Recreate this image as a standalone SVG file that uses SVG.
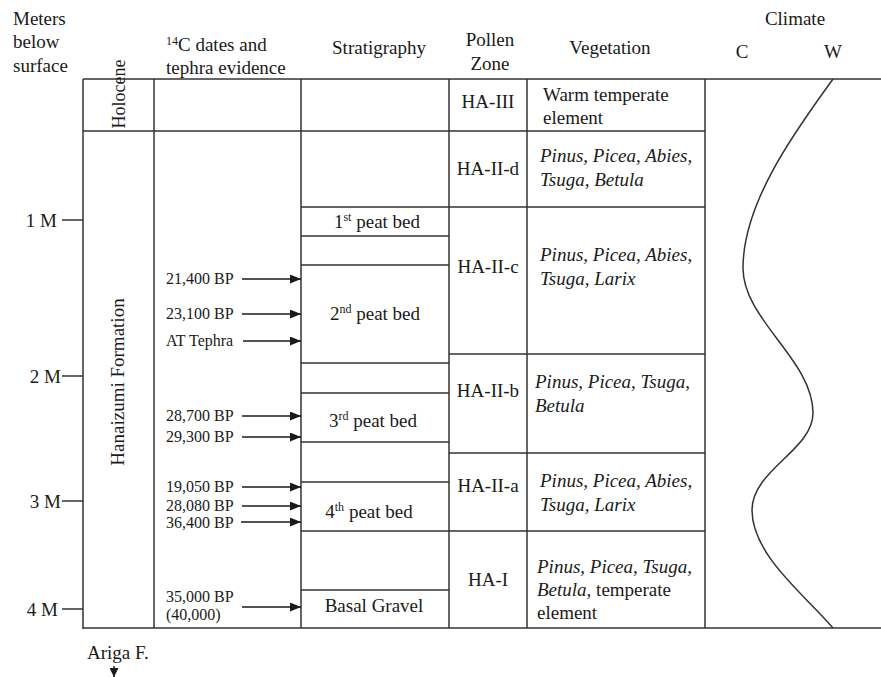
<svg xmlns="http://www.w3.org/2000/svg" width="881" height="677" viewBox="0 0 881 677">
<style>
text{font-family:"Liberation Serif","Times New Roman",serif;fill:#1a1a1a}
.h{font-size:19px}
.d{font-size:16px}
.m{text-anchor:middle}
.i{font-style:italic}
.sup{font-size:12px}
.ln{stroke:#333;stroke-width:1.5;fill:none}
.ar{stroke:#1a1a1a;stroke-width:1.5;fill:none;marker-end:url(#ah)}
</style>
<defs>
<marker id="ah" markerWidth="11" markerHeight="9" refX="11" refY="4.5" orient="auto" markerUnits="userSpaceOnUse"><path d="M0,0 L11,4.5 L0,9 z" fill="#1a1a1a"/></marker>
<marker id="ahs" markerWidth="9" markerHeight="9" refX="9" refY="4.5" orient="auto" markerUnits="userSpaceOnUse"><path d="M0,0 L9,4.5 L0,9 z" fill="#1a1a1a"/></marker>
</defs>
<rect width="881" height="677" fill="#fff"/>

<g id="headers" class="h">
<text x="13" y="25">Meters</text>
<text x="13" y="48">below</text>
<text x="13" y="72">surface</text>
<text x="166" y="51"><tspan class="sup" dy="-6">14</tspan><tspan dy="6">C dates and</tspan></text>
<text x="166" y="74">tephra evidence</text>
<text x="379" y="54" class="m">Stratigraphy</text>
<text x="490" y="46" class="m">Pollen</text>
<text x="490" y="70" class="m">Zone</text>
<text x="610" y="54" class="m">Vegetation</text>
<text x="795" y="25" class="m">Climate</text>
<text x="742" y="58" class="m">C</text>
<text x="833" y="58" class="m">W</text>
</g>

<g id="grid" class="ln">
<line x1="83" y1="79" x2="881" y2="79"/>
<line x1="83" y1="628" x2="881" y2="628"/>
<line x1="83" y1="79" x2="83" y2="629"/>
<line x1="154" y1="79" x2="154" y2="628"/>
<line x1="301" y1="79" x2="301" y2="628"/>
<line x1="449" y1="79" x2="449" y2="628"/>
<line x1="527" y1="79" x2="527" y2="628"/>
<line x1="705" y1="79" x2="705" y2="628"/>
<line x1="83" y1="131" x2="705" y2="131"/>
<line x1="301" y1="207" x2="705" y2="207"/>
<line x1="449" y1="354" x2="705" y2="354"/>
<line x1="449" y1="453" x2="705" y2="453"/>
<line x1="301" y1="531" x2="705" y2="531"/>
</g>

<g id="depth-axis">
<g class="ln">
<line x1="62" y1="220" x2="83" y2="220"/>
<line x1="62" y1="376" x2="83" y2="376"/>
<line x1="62" y1="501" x2="83" y2="501"/>
<line x1="62" y1="609" x2="83" y2="609"/>
</g>
<text class="h" x="57" y="227" text-anchor="end">1 M</text>
<text class="h" x="61" y="383" text-anchor="end">2 M</text>
<text class="h" x="61" y="508" text-anchor="end">3 M</text>
<text class="h" x="58" y="616" text-anchor="end">4 M</text>
</g>

<g id="holocene"><text class="m" style="font-size:18px" transform="translate(125,94) rotate(-90)">Holocene</text></g>
<g id="hanaizumi"><text class="h m" transform="translate(124,382) rotate(-90)">Hanaizumi Formation</text></g>

<g id="stratigraphy">
<g class="ln">
<line x1="301" y1="236" x2="449" y2="236"/>
<line x1="301" y1="265" x2="449" y2="265"/>
<line x1="301" y1="363" x2="449" y2="363"/>
<line x1="301" y1="393" x2="449" y2="393"/>
<line x1="301" y1="442" x2="449" y2="442"/>
<line x1="301" y1="482" x2="449" y2="482"/>
<line x1="301" y1="590" x2="449" y2="590"/>
</g>
<g id="peat1"><text class="h m" x="377" y="228">1<tspan class="sup" dy="-7">st</tspan><tspan dy="7"> peat bed</tspan></text></g>
<g id="peat2"><text class="h m" x="375" y="320">2<tspan class="sup" dy="-7">nd</tspan><tspan dy="7"> peat bed</tspan></text></g>
<g id="peat3"><text class="h m" x="373" y="427">3<tspan class="sup" dy="-7">rd</tspan><tspan dy="7"> peat bed</tspan></text></g>
<g id="peat4"><text class="h m" x="369" y="518">4<tspan class="sup" dy="-7">th</tspan><tspan dy="7"> peat bed</tspan></text></g>
<g id="gravel"><text class="h m" x="374" y="612">Basal Gravel</text></g>
</g>

<g id="zone-HA-III"><text class="h m" x="488" y="108">HA-III</text>
<text class="h" x="543" y="101">Warm temperate</text><text class="h" x="543" y="124">element</text></g>
<g id="zone-HA-II-d"><text class="h m" x="488" y="175">HA-II-d</text>
<text class="h i" x="540" y="162">Pinus, Picea, Abies,</text><text class="h i" x="540" y="186">Tsuga, Betula</text></g>
<g id="zone-HA-II-c"><text class="h m" x="488" y="273">HA-II-c</text>
<text class="h i" x="540" y="261">Pinus, Picea, Abies,</text><text class="h i" x="540" y="285">Tsuga, Larix</text></g>
<g id="zone-HA-II-b"><text class="h m" x="488" y="397">HA-II-b</text>
<text class="h i" x="535" y="388">Pinus, Picea, Tsuga,</text><text class="h i" x="535" y="412">Betula</text></g>
<g id="zone-HA-II-a"><text class="h m" x="488" y="492">HA-II-a</text>
<text class="h i" x="540" y="487">Pinus, Picea, Abies,</text><text class="h i" x="540" y="511">Tsuga, Larix</text></g>
<g id="zone-HA-I"><text class="h m" x="488" y="586">HA-I</text>
<text class="h" x="537" y="573"><tspan class="i">Pinus, Picea, Tsuga,</tspan></text>
<text class="h" x="537" y="596"><tspan class="i">Betula,</tspan> temperate</text>
<text class="h" x="537" y="619">element</text></g>

<g id="climate-curve"><path class="ln" stroke-width="1.3" d="M833,79 C800,125 743,200 743,268 C743,320 813,360 813,413 C813,450 752,470 752,510 C752,555 805,595 833,628"/></g>

<g id="dates" class="d">
<text x="166" y="284">21,400 BP</text>
<text x="166" y="319">23,100 BP</text>
<text x="166" y="346">AT Tephra</text>
<text x="166" y="421">28,700 BP</text>
<text x="166" y="442">29,300 BP</text>
<text x="166" y="492">19,050 BP</text>
<text x="166" y="511">28,080 BP</text>
<text x="166" y="528">36,400 BP</text>
<text x="166" y="602">35,000 BP</text>
<text x="166" y="620">(40,000)</text>
</g>

<g id="connectors">
<line class="ar" x1="242" y1="279" x2="301" y2="279"/>
<line class="ar" x1="242" y1="314" x2="301" y2="314"/>
<line class="ar" x1="243" y1="341" x2="301" y2="341"/>
<line class="ar" x1="242" y1="416" x2="301" y2="416"/>
<line class="ar" x1="242" y1="437" x2="301" y2="437"/>
<line class="ar" x1="242" y1="487" x2="301" y2="487"/>
<line class="ar" x1="242" y1="506" x2="301" y2="506"/>
<line class="ar" x1="241" y1="522" x2="301" y2="522"/>
<line class="ar" x1="242" y1="607" x2="301" y2="607"/>
<line x1="114" y1="666" x2="114" y2="677" stroke="#1a1a1a" stroke-width="1.5" marker-end="url(#ahs)"/>
</g>

<g id="ariga"><text class="h" x="87" y="659">Ariga F.</text></g>
</svg>
